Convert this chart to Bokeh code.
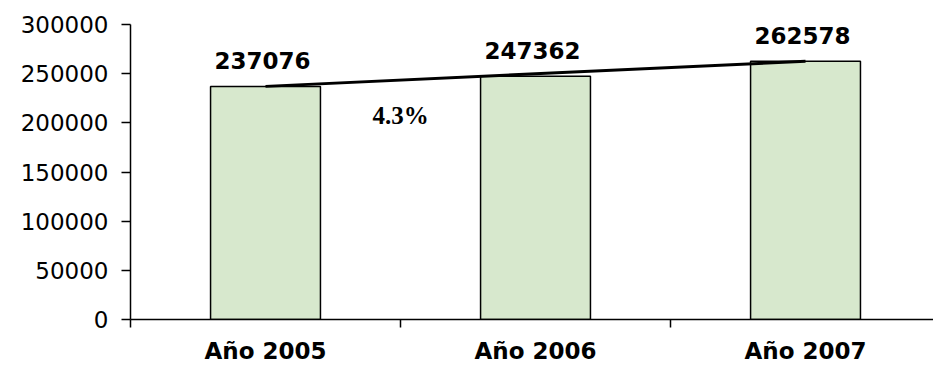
from bokeh.plotting import figure
from bokeh.models import FixedTicker, ColumnDataSource, Range1d, Label
from bokeh.embed import file_html
from bokeh.resources import INLINE
from bokeh.core.properties import value

categories = ["Año 2005", "Año 2006", "Año 2007"]
values = [237076, 247362, 262578]
growth_label = "4.3%"
y_ticks = [0, 50000, 100000, 150000, 200000, 250000, 300000]

xc = [i + 0.5 for i in range(len(categories))]
src = ColumnDataSource(dict(x=xc, top=values, lab=[str(v) for v in values]))

p = figure(width=933, height=366, output_backend="svg", toolbar_location=None,
           x_range=Range1d(0, 2.974), y_range=Range1d(0, 300000),
           min_border_left=130, min_border_top=24, min_border_bottom=45, min_border_right=0)
p.outline_line_color = None
p.xgrid.visible = False
p.ygrid.visible = False
p.background_fill_color = "white"

p.vbar(x="x", top="top", width=0.407, bottom=0, source=src,
       fill_color="#d7e8cd", line_color="black", line_width=1.5)

p.line(x=[xc[0], xc[-1]], y=[values[0], values[-1]], line_color="black", line_width=3)

p.text(x="x", y="top", text="lab", source=src, x_offset=-3, y_offset=-26,
       text_align="center", text_baseline="alphabetic",
       text_font=value("DejaVu Sans"), text_font_style="bold", text_font_size="23px",
       text_color="black")

p.add_layout(Label(x=1.0, y=207000, text=growth_label, text_align="center",
                   text_baseline="alphabetic", text_font="Liberation Serif",
                   text_font_style="bold", text_font_size="25px", text_color="black"))

# y axis
p.yaxis.ticker = FixedTicker(ticks=y_ticks)
p.yaxis.formatter.use_scientific = False
p.yaxis.major_label_text_font = "DejaVu Sans"
p.yaxis.major_label_text_font_size = "23px"
p.yaxis.major_label_text_color = "black"
p.yaxis.major_tick_in = 0
p.yaxis.major_tick_out = 9
p.yaxis.minor_tick_line_color = None
p.yaxis.axis_line_width = 1.5
p.yaxis.major_tick_line_width = 1.5
p.yaxis.major_label_standoff = 13

# x axis
p.xaxis.ticker = FixedTicker(ticks=xc, minor_ticks=[0, 1, 2])
p.xaxis.major_label_overrides = {x: c for x, c in zip(xc, categories)}
p.xaxis.major_tick_in = 0
p.xaxis.major_tick_out = 0
p.xaxis.minor_tick_in = 0
p.xaxis.minor_tick_out = 8
p.xaxis.minor_tick_line_width = 1.5
p.xaxis.axis_line_width = 1.5
p.xaxis.major_label_text_font = "DejaVu Sans"
p.xaxis.major_label_text_font_style = "bold"
p.xaxis.major_label_text_font_size = "23px"
p.xaxis.major_label_text_color = "black"
p.xaxis.major_label_standoff = 10

open("out.html", "w").write(file_html(p, INLINE))
